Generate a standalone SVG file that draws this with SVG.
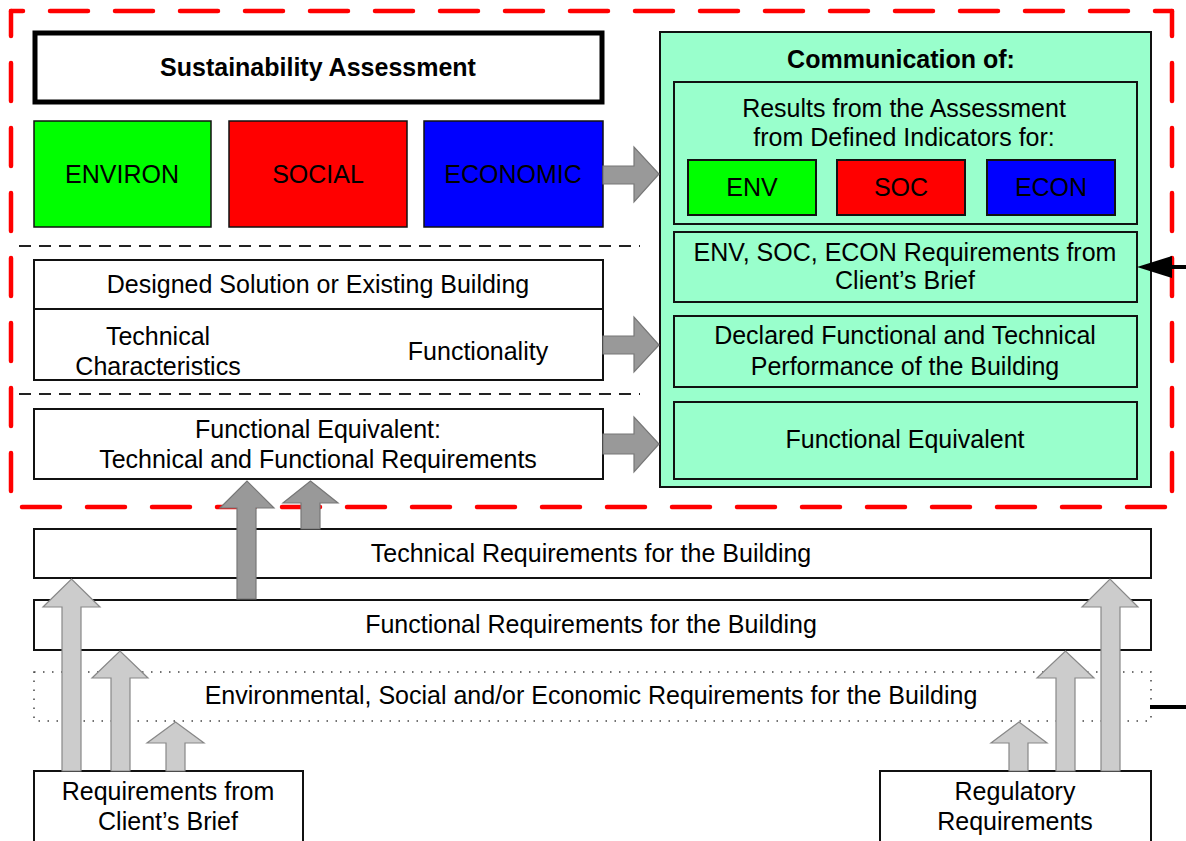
<svg xmlns="http://www.w3.org/2000/svg" width="1186" height="841" viewBox="0 0 1186 841">
<style>
.t{font-family:"Liberation Sans",Arial,sans-serif;font-size:25px;fill:#000;text-anchor:middle}
.b{font-weight:bold}
.box{fill:#fff;stroke:#111;stroke-width:2}
.mint{fill:#99ffcc;stroke:#111;stroke-width:2}
.dk{fill:#999;stroke:#777;stroke-width:1.2}
.lt{fill:#ccc;stroke:#888;stroke-width:1.2}
.sep{stroke:#222;stroke-width:2;stroke-dasharray:12 8;fill:none}
.red{fill:none;stroke:#ff0000;stroke-width:4.5;stroke-dasharray:38 27;stroke-linecap:round}
</style>
<rect width="1186" height="841" fill="#fff"/>
<g id="sustainability-assessment">
<rect x="35" y="33" width="567" height="69" fill="#fff" stroke="#000" stroke-width="5"/>
<text class="t b" x="318" y="76">Sustainability Assessment</text>
</g>
<g id="environ"><rect x="34" y="121" width="177" height="106" fill="#00ff00" stroke="#111" stroke-width="1.5"/><text class="t" x="122" y="183">ENVIRON</text></g>
<g id="social"><rect x="229" y="121" width="178" height="106" fill="#ff0000" stroke="#111" stroke-width="1.5"/><text class="t" x="318" y="183">SOCIAL</text></g>
<g id="economic"><rect x="424" y="121" width="179" height="106" fill="#0000ff" stroke="#111" stroke-width="1.5"/><text class="t" x="513" y="183">ECONOMIC</text></g>
<g id="separators">
<line class="sep" x1="19" y1="246" x2="640" y2="246"/>
<line class="sep" x1="19" y1="394" x2="640" y2="394"/>
</g>
<g id="designed-solution">
<rect class="box" x="34" y="260" width="569" height="120"/>
<line x1="34" y1="309" x2="603" y2="309" stroke="#111" stroke-width="2"/>
<text class="t" x="318" y="293">Designed Solution or Existing Building</text>
<text class="t" x="158" y="345">Technical</text>
<text class="t" x="158" y="375">Characteristics</text>
<text class="t" x="478" y="360">Functionality</text>
</g>
<g id="functional-equivalent-req">
<rect class="box" x="34" y="409" width="569" height="70"/>
<text class="t" x="318" y="438">Functional Equivalent:</text>
<text class="t" x="318" y="468">Technical and Functional Requirements</text>
</g>
<g id="communication">
<rect class="mint" x="660" y="32" width="491" height="455"/>
<text class="t b" x="901" y="68">Communication of:</text>
</g>
<g id="results">
<rect class="mint" x="674" y="82" width="463" height="142"/>
<text class="t" x="904" y="117">Results from the Assessment</text>
<text class="t" x="904" y="146">from Defined Indicators for:</text>
</g>
<g id="env"><rect x="688" y="160" width="128" height="55" fill="#00ff00" stroke="#111" stroke-width="2"/><text class="t" x="752" y="196">ENV</text></g>
<g id="soc"><rect x="837" y="160" width="128" height="55" fill="#ff0000" stroke="#111" stroke-width="2"/><text class="t" x="901" y="196">SOC</text></g>
<g id="econ"><rect x="987" y="160" width="128" height="55" fill="#0000ff" stroke="#111" stroke-width="2"/><text class="t" x="1051" y="196">ECON</text></g>
<g id="client-req-comm">
<rect class="mint" x="674" y="232" width="463" height="70"/>
<text class="t" x="905" y="261">ENV, SOC, ECON Requirements from</text>
<text class="t" x="905" y="289">Client’s Brief</text>
</g>
<g id="declared">
<rect class="mint" x="674" y="316" width="463" height="71"/>
<text class="t" x="905" y="344">Declared Functional and Technical</text>
<text class="t" x="905" y="375">Performance of the Building</text>
</g>
<g id="functional-equivalent">
<rect class="mint" x="674" y="402" width="463" height="77"/>
<text class="t" x="905" y="448">Functional Equivalent</text>
</g>
<g id="technical-requirements">
<rect class="box" x="34" y="529" width="1117" height="49"/>
<text class="t" x="591" y="562">Technical Requirements for the Building</text>
</g>
<g id="functional-requirements">
<rect class="box" x="34" y="600" width="1117" height="50"/>
<text class="t" x="591" y="633">Functional Requirements for the Building</text>
</g>
<g id="esec-requirements">
<rect x="34" y="672" width="1117" height="49" fill="none" stroke="#444" stroke-width="1.5" stroke-dasharray="1.5 7.5"/>
<text class="t" x="591" y="704">Environmental, Social and/or Economic Requirements for the Building</text>
</g>
<g id="client-brief">
<rect class="box" x="34" y="771" width="269" height="80"/>
<text class="t" x="168" y="800">Requirements from</text>
<text class="t" x="168" y="830">Client’s Brief</text>
</g>
<g id="regulatory">
<rect class="box" x="880" y="771" width="271" height="80"/>
<text class="t" x="1015" y="800">Regulatory</text>
<text class="t" x="1015" y="830">Requirements</text>
</g>
<g id="boundary">
<path class="red" d="M11 11 H1172" stroke-dashoffset="26"/>
<path class="red" d="M1172 11 V507" stroke-dashoffset="13"/>
<path class="red" d="M11 507 H1172" stroke-dashoffset="54"/>
<path class="red" d="M11 11 V507" stroke-dashoffset="13"/>
</g>
<g id="connectors">
<polygon class="dk" points="603,166 634,166 634,147 659,174 634,202 634,184 603,184"/>
<polygon class="dk" points="603,336 634,336 634,317 659,345 634,372 634,354 603,354"/>
<polygon class="dk" points="603,434 634,434 634,417 659,444 634,472 634,454 603,454"/>
<polygon class="dk" points="237,599 237,508 220,508 247,481 274,508 256,508 256,599"/>
<polygon class="dk" points="301,529 301,503 283,503 310.5,481 338,503 320,503 320,529"/>
<polygon class="lt" points="62,771 62,607 43,607 71.5,579 100,607 81,607 81,771"/>
<polygon class="lt" points="111,771 111,678 92,678 120,651 148,678 130,678 130,771"/>
<polygon class="lt" points="166,771 166,743 147,743 175.5,722 204,743 185,743 185,771"/>
<polygon class="lt" points="1101,771 1101,607 1082,607 1110,579 1138,607 1120,607 1120,771"/>
<polygon class="lt" points="1056,771 1056,678 1037,678 1065.5,651 1094,678 1075,678 1075,771"/>
<polygon class="lt" points="1009,771 1009,743 991,743 1019,722 1047,743 1028,743 1028,771"/>
<line x1="1168" y1="267" x2="1186" y2="267" stroke="#000" stroke-width="4"/>
<polygon points="1137,267 1172,256 1172,278" fill="#000"/>
<line x1="1150" y1="707" x2="1186" y2="707" stroke="#000" stroke-width="4"/>
</g>
</svg>
